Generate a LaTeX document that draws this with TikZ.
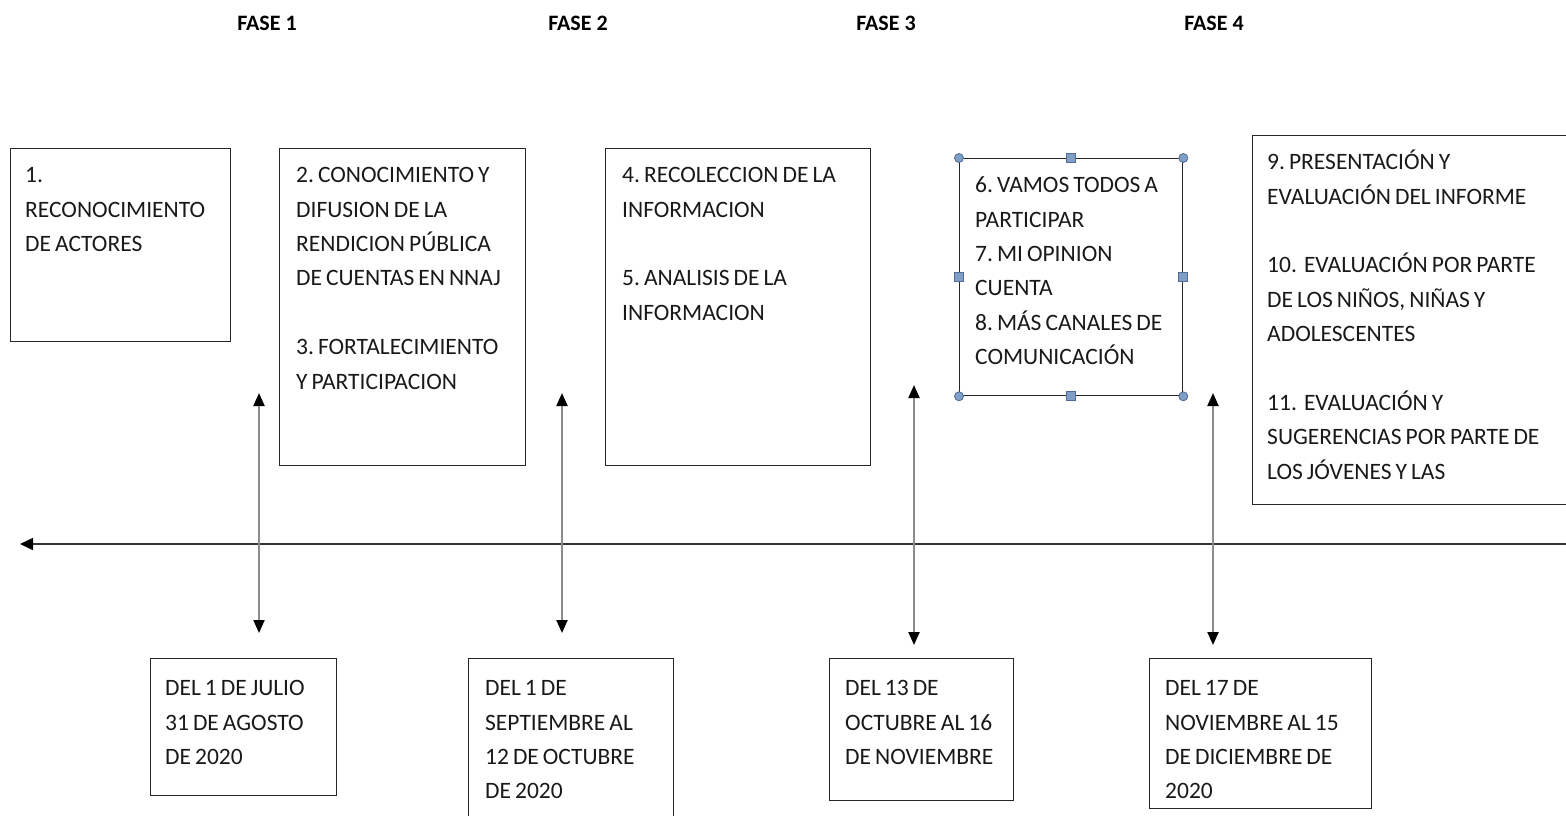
\documentclass[tikz,border=0pt]{standalone}
\usepackage{fontspec}
\setmainfont{Carlito}
\usetikzlibrary{arrows.meta}
\definecolor{handlefill}{RGB}{128,158,198}
\definecolor{handledraw}{RGB}{80,108,150}
\definecolor{arrowgray}{RGB}{140,140,140}
\newcommand{\boxfont}{\fontsize{23.5}{34.4}\selectfont\frenchspacing\spaceskip=0.17em plus 0.05em minus 0.02em\relax}
\begin{document}
\begin{tikzpicture}[x=1pt,y=-1pt,
  box/.style={draw=black!85, line width=1.3pt, anchor=north west, inner sep=0pt},
  txt/.style={anchor=north west, inner sep=0pt, align=left, font=\boxfont, text=black!90},
  fase/.style={anchor=base, inner sep=0pt, font=\fontsize{22}{26}\selectfont\bfseries},
  vline/.style={draw=arrowgray, line width=2.2pt, {Triangle[length=13pt,width=11pt,color=black]}-{Triangle[length=13pt,width=11pt,color=black]}},
  tline/.style={draw=black!80, line width=1.6pt, {Triangle[length=13pt,width=12pt,color=black]}-},
  hcirc/.style={circle, fill=handlefill, draw=handledraw, line width=0.8pt, minimum size=9pt, inner sep=0pt},
  hsq/.style={rectangle, fill=handlefill, draw=handledraw, line width=0.8pt, minimum size=9pt, inner sep=0pt}
]
\useasboundingbox (0,0) rectangle (1566,815);

% phase titles
\node[fase] (f1) at (267,30) {FASE 1};
\node[fase] (f2) at (578,30) {FASE 2};
\node[fase] (f3) at (886,30) {FASE 3};
\node[fase] (f4) at (1214,30) {FASE 4};

% upper boxes
\node[box, minimum width=220pt, minimum height=193pt] (b1) at (10,148) {};
\node[box, minimum width=246pt, minimum height=317pt] (b2) at (279,148) {};
\node[box, minimum width=265pt, minimum height=317pt] (b3) at (605,148) {};
\node[box, minimum width=223pt, minimum height=237pt] (b4) at (959,158) {};
\node[box, minimum width=330pt, minimum height=369pt] (b5) at (1252,135) {};

\node[txt] (t1) at (25,162.5) {\rule{0pt}{20pt}1.\\RECONOCIMIENTO\\DE ACTORES};
\node[txt] (t2) at (296,162.5) {\rule{0pt}{20pt}2. CONOCIMIENTO Y\\DIFUSION DE LA\\RENDICION PÚBLICA\\DE CUENTAS EN NNAJ\\[34.4pt]3. FORTALECIMIENTO\\Y PARTICIPACION};
\node[txt] (t3) at (622,162.5) {\rule{0pt}{20pt}4. RECOLECCION DE LA\\INFORMACION\\[34.4pt]5. ANALISIS DE LA\\INFORMACION};
\node[txt] (t4) at (975,172.5) {\rule{0pt}{20pt}6. VAMOS TODOS A\\PARTICIPAR\\7. MI OPINION\\CUENTA\\8. MÁS CANALES DE\\COMUNICACIÓN};
\node[txt] (t5) at (1267,149.5) {\rule{0pt}{20pt}9. PRESENTACIÓN Y\\EVALUACIÓN DEL INFORME\\[34.4pt]10.\hspace{0.3em}EVALUACIÓN POR PARTE\\DE LOS NIÑOS, NIÑAS Y\\ADOLESCENTES\\[34.4pt]11.\hspace{0.3em}EVALUACIÓN Y\\SUGERENCIAS POR PARTE DE\\LOS JÓVENES Y LAS};

% selection handles on box 4
\foreach \a/\n in {north west/h1, north east/h2, south west/h3, south east/h4}
  \node[hcirc] (\n) at (b4.\a) {};
\foreach \a/\n in {north/h5, south/h6, west/h7, east/h8}
  \node[hsq] (\n) at (b4.\a) {};

% lower date boxes
\node[box, minimum width=186pt, minimum height=137pt] (d1) at (150,658) {};
\node[box, minimum width=205pt, minimum height=170pt] (d2) at (468,658) {};
\node[box, minimum width=184pt, minimum height=142pt] (d3) at (829,658) {};
\node[box, minimum width=222pt, minimum height=150pt] (d4) at (1149,658) {};

\node[txt] (u1) at (165,675.5) {\rule{0pt}{20pt}DEL 1 DE JULIO\\31 DE AGOSTO\\DE 2020};
\node[txt] (u2) at (485,675.5) {\rule{0pt}{20pt}DEL 1 DE\\SEPTIEMBRE AL\\12 DE OCTUBRE\\DE 2020};
\node[txt] (u3) at (845,675.5) {\rule{0pt}{20pt}DEL 13 DE\\OCTUBRE AL 16\\DE NOVIEMBRE};
\node[txt] (u4) at (1165,675.5) {\rule{0pt}{20pt}DEL 17 DE\\NOVIEMBRE AL 15\\DE DICIEMBRE DE\\2020};

% timeline
\coordinate (tl) at (20,544);
\coordinate (tr) at (1570,544);
\draw[tline] (tl) -- (tr);

% vertical arrows
\coordinate (a1t) at (259,393); \coordinate (a1b) at (259,633);
\coordinate (a2t) at (562,393); \coordinate (a2b) at (562,633);
\coordinate (a3t) at (914,385); \coordinate (a3b) at (914,645);
\coordinate (a4t) at (1213,393); \coordinate (a4b) at (1213,645);
\draw[vline] (a1t) -- (a1b);
\draw[vline] (a2t) -- (a2b);
\draw[vline] (a3t) -- (a3b);
\draw[vline] (a4t) -- (a4b);
\end{tikzpicture}
\end{document}
